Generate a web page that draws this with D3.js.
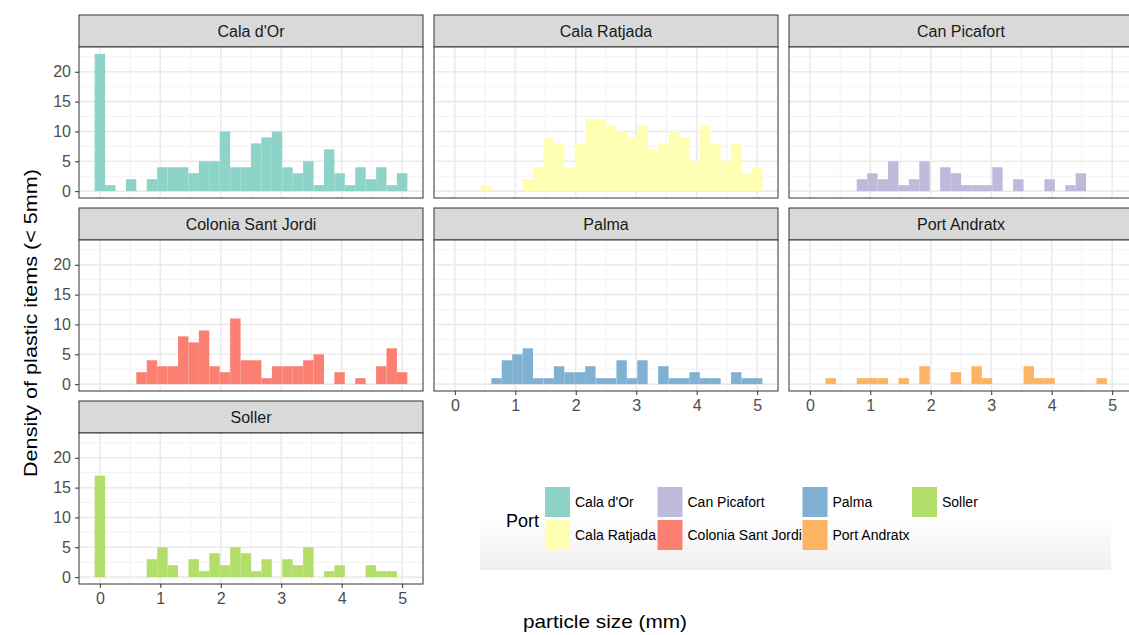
<!DOCTYPE html>
<html>
<head>
<meta charset="utf-8">
<script src="https://cdn.jsdelivr.net/npm/d3@7"></script>
<style>
  body { margin: 0; background: #fff; }
  svg { display: block; font-family: "Liberation Sans", Arial, Helvetica, sans-serif; }
</style>
</head>
<body>
<svg id="chart" width="1129" height="635"></svg>
<script>
// Ports, in facet order
const ports = ["Cala d'Or", "Cala Ratjada", "Can Picafort", "Colonia Sant Jordi", "Palma", "Port Andratx", "Soller"];
const portColors = ["#8DD3C7", "#FFFFB3", "#BEBADA", "#FB8072", "#80B1D3", "#FDB462", "#B3DE69"];

// Histogram bins: 30 bins centred from 0 to 5 mm
const sizeMin = 0, sizeMax = 5, binCount = 30;

// Counts per bin, one array per port
const calaDOr       = [23,1,0,2,0,2,4,4,4,3,5,5,10,4,4,8,9,10,4,3,5,1,7,3,1,4,2,4,1,3];
const calaRatjada   = [0,0,0,1,0,0,0,2,4,9,8,4,8,12,12,11,10,9,11,7,8,10,9,5,11,8,5,8,3,4];
const canPicafort   = [0,0,0,0,0,2,3,2,5,1,2,5,0,4,3,1,1,1,4,0,2,0,0,2,0,1,3,0,0,0];
const coloniaSJ     = [0,0,0,0,2,4,3,3,8,7,9,3,2,11,4,4,1,3,3,3,4,5,0,2,0,1,0,3,6,2];
const palma         = [0,0,0,0,1,4,5,6,1,1,3,2,2,3,1,1,4,1,4,0,3,1,1,2,1,1,0,2,1,1];
const portAndratx   = [0,0,1,0,0,1,1,1,0,1,0,3,0,0,2,0,3,1,0,0,0,3,1,1,0,0,0,0,1,0];
const soller        = [17,0,0,0,0,3,5,2,0,3,1,4,2,5,4,1,3,0,3,2,5,0,1,2,0,0,2,1,1,0];
const seriesCounts = [calaDOr, calaRatjada, canPicafort, coloniaSJ, palma, portAndratx, soller];

// Axis ticks
const xTicks = [0, 1, 2, 3, 4, 5];
const yTicks = [0, 5, 10, 15, 20];

const svg = d3.select("#chart");

// Facet grid geometry
const colLeft = [79, 434, 789];
const rowTop = [15, 208, 401];
const pw = 344, ph = 151, stripH = 32;

const binWidth = (sizeMax - sizeMin) / (binCount - 1);
const xLo = sizeMin - binWidth / 2, xHi = sizeMax + binWidth / 2;
const xPad = (xHi - xLo) * 0.05;
const x = d3.scaleLinear().domain([xLo - xPad, xHi + xPad]).range([0, pw]);

const yMax = d3.max(seriesCounts, s => d3.max(s));
const yPad = yMax * 0.05;
const y = d3.scaleLinear().domain([-yPad, yMax + yPad]).range([ph, 0]);

const xMinor = d3.range(0.5, 5.5, 1);
const yMinor = [2.5, 7.5, 12.5, 17.5, 22.5];

ports.forEach((port, k) => {
  const col = k % 3, row = Math.floor(k / 3);
  const g = svg.append("g").attr("transform", `translate(${colLeft[col]},${rowTop[row]})`);

  // strip
  g.append("rect").attr("x", 0).attr("y", 0).attr("width", pw).attr("height", stripH)
    .attr("fill", "#D9D9D9").attr("stroke", "#333").attr("stroke-width", 1);
  g.append("text").attr("x", pw / 2).attr("y", stripH / 2 + 6)
    .attr("text-anchor", "middle").attr("font-size", 16).attr("fill", "#1A1A1A").text(port);

  const p = g.append("g").attr("transform", `translate(0,${stripH})`);
  p.append("rect").attr("width", pw).attr("height", ph).attr("fill", "#fff");

  // grid
  p.selectAll(".ym").data(yMinor).join("line")
    .attr("x1", 0).attr("x2", pw).attr("y1", d => y(d)).attr("y2", d => y(d))
    .attr("stroke", "#F2F2F2").attr("stroke-width", 1);
  p.selectAll(".xm").data(xMinor).join("line")
    .attr("y1", 0).attr("y2", ph).attr("x1", d => x(d)).attr("x2", d => x(d))
    .attr("stroke", "#F2F2F2").attr("stroke-width", 1);
  p.selectAll(".yg").data(yTicks).join("line")
    .attr("x1", 0).attr("x2", pw).attr("y1", d => y(d)).attr("y2", d => y(d))
    .attr("stroke", "#EBEBEB").attr("stroke-width", 1.6);
  p.selectAll(".xg").data(xTicks).join("line")
    .attr("y1", 0).attr("y2", ph).attr("x1", d => x(d)).attr("x2", d => x(d))
    .attr("stroke", "#EBEBEB").attr("stroke-width", 1.6);

  // bars
  const bins = seriesCounts[k].map((c, i) => ({ c, x0: sizeMin + (i - 0.5) * binWidth, x1: sizeMin + (i + 0.5) * binWidth }))
    .filter(b => b.c > 0);
  p.selectAll(".bar").data(bins).join("rect")
    .attr("x", d => x(d.x0)).attr("width", d => x(d.x1) - x(d.x0))
    .attr("y", d => y(d.c)).attr("height", d => y(0) - y(d.c))
    .attr("fill", portColors[k]);

  // panel border
  p.append("rect").attr("width", pw).attr("height", ph).attr("fill", "none")
    .attr("stroke", "#333").attr("stroke-width", 1);

  // y axis on first column
  if (col === 0) {
    const ya = p.append("g").call(d3.axisLeft(y).tickValues(yTicks).tickSize(4).tickPadding(4));
    ya.select(".domain").remove();
    ya.selectAll("line").attr("stroke", "#333");
    ya.selectAll("text").attr("font-size", 16).attr("fill", "#4D4D4D").attr("font-family", "Liberation Sans, Arial, sans-serif");
  }
  // x axis on bottom panel of each column
  const isBottom = (k + 3 >= ports.length);
  if (isBottom) {
    const xa = p.append("g").attr("transform", `translate(0,${ph})`)
      .call(d3.axisBottom(x).tickValues(xTicks).tickFormat(d3.format("d")).tickSize(4).tickPadding(5));
    xa.select(".domain").remove();
    xa.selectAll("line").attr("stroke", "#333");
    xa.selectAll("text").attr("font-size", 16).attr("fill", "#4D4D4D").attr("font-family", "Liberation Sans, Arial, sans-serif");
  }
});

// axis titles
svg.append("text").attr("x", 605).attr("y", 628).attr("text-anchor", "middle")
  .attr("font-size", 19).attr("textLength", 164).attr("lengthAdjust", "spacingAndGlyphs")
  .attr("fill", "#000").text("particle size (mm)");
svg.append("text").attr("transform", "translate(37,323) rotate(-90)").attr("text-anchor", "middle")
  .attr("font-size", 19).attr("textLength", 308).attr("lengthAdjust", "spacingAndGlyphs")
  .attr("fill", "#000").text("Density of plastic items (< 5mm)");

// legend
const defs = svg.append("defs");
const grad = defs.append("linearGradient").attr("id", "legendShade").attr("x1", 0).attr("x2", 0).attr("y1", 0).attr("y2", 1);
grad.append("stop").attr("offset", "0%").attr("stop-color", "#ffffff");
grad.append("stop").attr("offset", "100%").attr("stop-color", "#efefef");
svg.append("rect").attr("x", 480).attr("y", 518).attr("width", 631).attr("height", 52).attr("fill", "url(#legendShade)");

const legend = svg.append("g");
legend.append("text").attr("x", 506).attr("y", 527).attr("font-size", 18).attr("fill", "#000").text("Port");
const legCols = [545, 657.5, 802.5, 912];
ports.forEach((port, k) => {
  const c = Math.floor(k / 2), r = k % 2;
  const top = 487 + r * 33;
  legend.append("rect").attr("x", legCols[c]).attr("y", top).attr("width", 25).attr("height", 30).attr("fill", portColors[k]);
  legend.append("text").attr("x", legCols[c] + 30).attr("y", top + 20).attr("font-size", 14).attr("fill", "#000").text(port);
});
</script>
</body>
</html>
